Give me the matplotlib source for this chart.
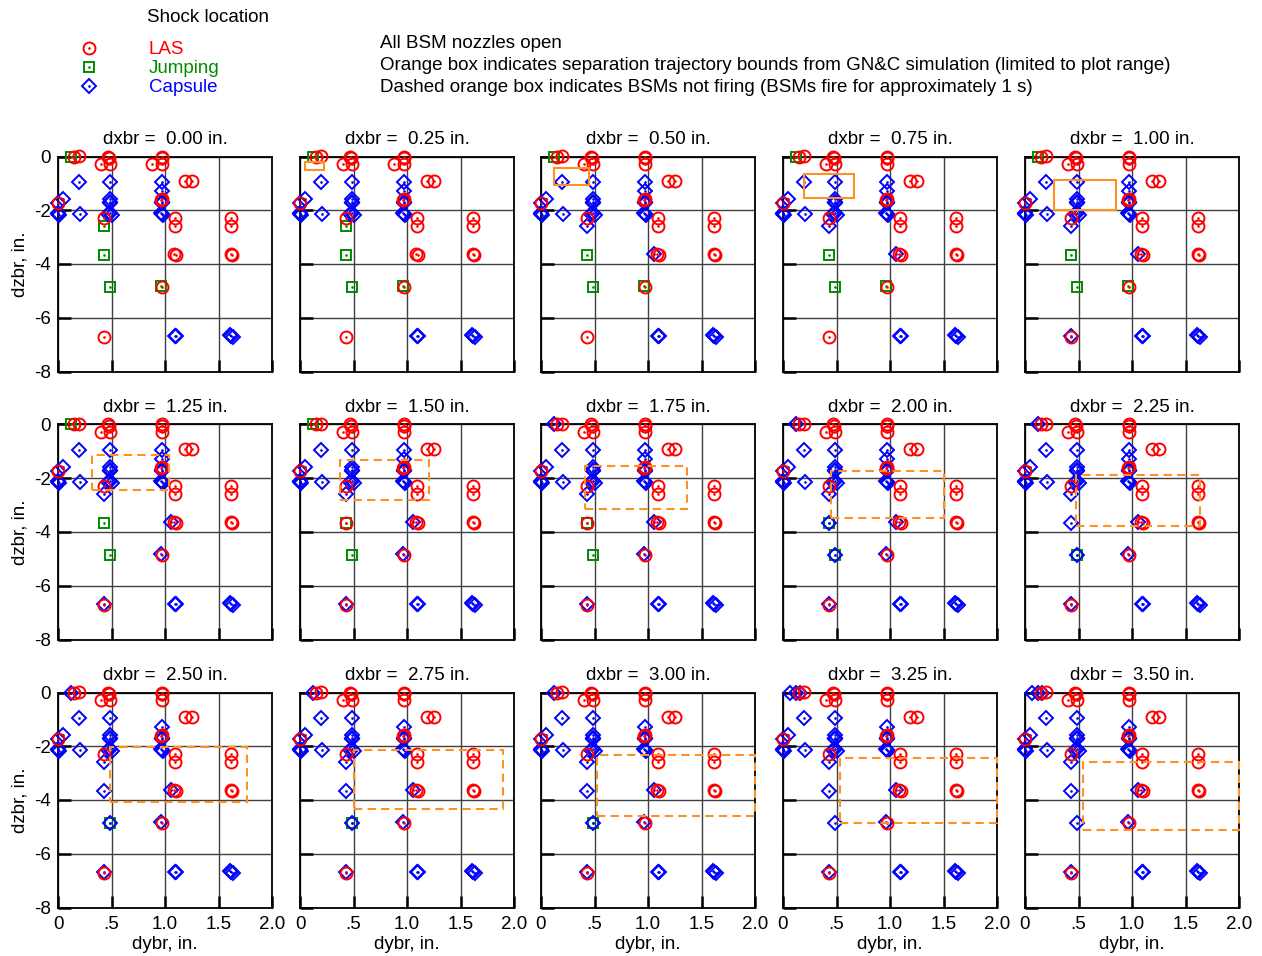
import numpy as np
import matplotlib.pyplot as plt
from matplotlib.lines import Line2D
from matplotlib.patches import Rectangle

plt.rcParams['font.family'] = ['Liberation Sans', 'DejaVu Sans']
plt.rcParams['font.size'] = 13.5

dxbr = [0.00, 0.25, 0.50, 0.75, 1.00, 1.25, 1.50, 1.75, 2.00, 2.25, 2.50, 2.75, 3.00, 3.25, 3.50]

# shock locations that are LAS in every panel
las_y = [0.15, 0.20, 0.47, 0.48, 0.40, 0.49, 0.97, 0.97, 0.97, 1.19, 1.25, 0.97, 0.96,
         0.00, 0.43, 1.09, 1.09, 1.62, 1.62, 1.08, 1.10, 1.62, 1.63, 0.97, 0.43]
las_z = [0.0, 0.02, 0.0, -0.05, -0.29, -0.29, 0.0, -0.05, -0.29, -0.93, -0.93, -1.58, -1.62,
         -1.74, -2.27, -2.27, -2.57, -2.27, -2.57, -3.64, -3.68, -3.64, -3.66, -4.87, -6.71]

# shock locations that are Capsule in every panel
cap_y = [0.20, 0.49, 0.97, 0.00, 0.05, 0.49, 0.49, 0.49, 0.97, 0.97, 0.00, 0.00, 0.01,
         0.21, 0.47, 0.49, 0.50, 0.96, 0.97, 0.98, 1.09, 1.10, 1.61, 1.62, 1.64]
cap_z = [-0.96, -0.96, -1.27, -1.74, -1.58, -1.58, -1.68, -1.74, -1.68, -1.74, -2.12, -2.15, -2.19,
         -2.15, -2.15, -2.12, -2.18, -2.12, -2.15, -2.18, -6.67, -6.69, -6.65, -6.67, -6.70]

# locations whose shock type changes with dxbr
sw_y = [0.12, 0.07, 0.16, 0.43, 0.43, 0.49, 0.96, 1.06, 0.43, 0.88, 0.97]
sw_z = [0.0, 0.0, 0.0, -2.60, -3.66, -4.87, -4.81, -3.62, -6.67, -0.29, -0.96]
# one entry per panel: j = Jumping, c = Capsule, l = LAS, - = none
sw_cls = [
    "j j j j j j j c c c c c c c c",
    "- - - - - - - - - - - - - c c",
    "- - - - - - - - - - - - - c c",
    "j j c c c c c c c c c c c c c",
    "j j j j j j jl jl jc c c c c c c",
    "j j j j j j j j jc jc jc jc jc c c",
    "j j j j j c c c c c c c c c c",
    "- - c c c c c c c c c c c c c",
    "- - - - c c c c c c c c c c c",
    "l l - - - - - - - - - - - - -",
    "c c c c c c c c c c - - - - -",
]

# separation trajectory bounds (dybr min/max, dzbr top/bottom)
box_y0 = [None, 0.05, 0.125, 0.20, 0.27, 0.32, 0.37, 0.41, 0.445, 0.48, 0.49, 0.505, 0.525, 0.535, 0.545]
box_y1 = [None, 0.22, 0.445, 0.66, 0.85, 1.04, 1.21, 1.36, 1.505, 1.64, 1.77, 1.90, 2.0, 2.0, 2.0]
box_z0 = [None, -0.19, -0.41, -0.66, -0.88, -1.14, -1.33, -1.53, -1.72, -1.88, -2.04, -2.13, -2.31, -2.44, -2.59]
box_z1 = [None, -0.52, -1.06, -1.55, -2.00, -2.43, -2.80, -3.16, -3.48, -3.79, -4.06, -4.34, -4.59, -4.85, -5.10]

red = '#ff0000'
green = '#008c00'
blue = '#0000ff'
orange = '#ff9122'

styles = {
    'l': dict(marker='o', ms=8.6, mec=red),
    'j': dict(marker='s', ms=7.0, mec=green),
    'c': dict(marker='D', ms=7.4, mec=blue),
}


def draw(ax, y, z, kind, zo):
    st = styles[kind]
    ax.plot(y, z, ls='none', marker=st['marker'], ms=st['ms'], mfc='none',
            mec=st['mec'], mew=1.4, zorder=zo, clip_on=False)
    ax.plot(y, z, ls='none', marker='o', ms=1.9, mfc=st['mec'], mec=st['mec'],
            mew=0, zorder=zo, clip_on=False)


def handle(kind):
    st = styles[kind]
    return (Line2D([], [], ls='none', marker=st['marker'], ms=st['ms'], mfc='none',
                   mec=st['mec'], mew=1.4),
            Line2D([], [], ls='none', marker='o', ms=1.9, mfc=st['mec'], mew=0))


fig = plt.figure(figsize=(12.62, 9.56), dpi=100)
W, H = 1262, 956
col_left = [58, 300, 541, 783, 1025]
row_top = [156.5, 424.5, 692.5]
aw, ah = 214, 215

for i, dx in enumerate(dxbr):
    r, c = divmod(i, 5)
    ax = fig.add_axes([col_left[c] / W, 1 - (row_top[r] + ah) / H, aw / W, ah / H])
    ax.set_xlim(0, 2)
    ax.set_ylim(-8, 0)
    ax.set_xticks([0, 0.5, 1.0, 1.5, 2.0])
    ax.set_yticks([0, -2, -4, -6, -8])
    ax.grid(True, color='0.25', lw=1.0)
    ax.set_axisbelow(True)
    ax.tick_params(direction='in', length=9, width=1.8, top=False, right=False,
                   labelsize=13.5)
    ax.tick_params(axis='x', pad=6)
    ax.tick_params(axis='y', pad=5)
    for s in ax.spines.values():
        s.set_linewidth(1.3)
    if r == 2:
        ax.set_xticklabels(['0', '.5', '1.0', '1.5', '2.0'])
        ax.set_xlabel('dybr, in.', labelpad=2)
    else:
        ax.set_xticklabels([])
    if c == 0:
        ax.set_yticklabels(['0', '-2', '-4', '-6', '-8'])
        ax.set_ylabel('dzbr, in.', labelpad=4)
    else:
        ax.set_yticklabels([])
    ax.set_title('dxbr =  %.2f in.' % dx, fontsize=13.5, pad=9)

    groups = {'l': ([], []), 'j': ([], []), 'c': ([], [])}
    for k in range(len(sw_y)):
        for ch in sw_cls[k].split()[i]:
            if ch in groups:
                groups[ch][0].append(sw_y[k])
                groups[ch][1].append(sw_z[k])
    draw(ax, groups['j'][0], groups['j'][1], 'j', 3)
    draw(ax, cap_y + groups['c'][0], cap_z + groups['c'][1], 'c', 4)
    draw(ax, las_y + groups['l'][0], las_z + groups['l'][1], 'l', 5)

    if box_y0[i] is not None:
        rect = Rectangle((box_y0[i], box_z1[i]), box_y1[i] - box_y0[i], box_z0[i] - box_z1[i],
                         fill=False, ec=orange, lw=1.5, zorder=6, clip_on=False)
        if dx >= 1.25:
            rect.set_linestyle((0, (4, 2.5)))
        ax.add_patch(rect)

# legend
fig.legend([handle('l'), handle('j'), handle('c')], ['LAS', 'Jumping', 'Capsule'],
           loc='upper left', bbox_to_anchor=(70 / W, 1 - 41 / H), frameon=False,
           labelcolor=[red, green, blue], fontsize=13.5, handlelength=2.0,
           handletextpad=2.2, labelspacing=0.1, borderpad=0, borderaxespad=0)
fig.text(147 / W, 1 - 17 / H, 'Shock location', va='center', ha='left')

notes = ['All BSM nozzles open',
         'Orange box indicates separation trajectory bounds from GN&C simulation (limited to plot range)',
         'Dashed orange box indicates BSMs not firing (BSMs fire for approximately 1 s)']
for j, t in enumerate(notes):
    fig.text(380 / W, 1 - (43.5 + 22 * j) / H, t, va='center', ha='left')

fig.savefig('out.png', dpi=100)
